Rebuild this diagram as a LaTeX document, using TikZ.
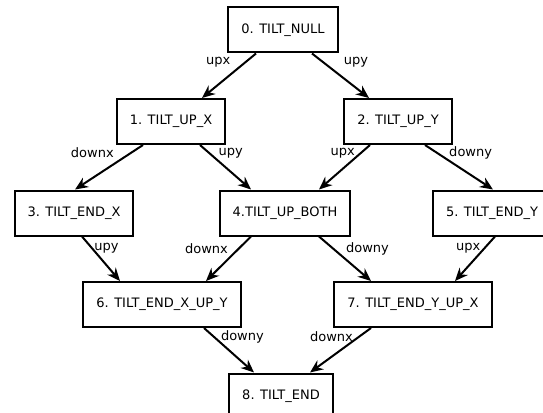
\documentclass[tikz,border=0pt]{standalone}
\usepackage{fontspec}
\setmainfont{DejaVu Sans}
\usetikzlibrary{arrows.meta, positioning}

\begin{document}
\begin{tikzpicture}[x=1pt, y=-1pt]
	\tikzset{>={Stealth[length=13pt, width=11pt]},
		every node/.style={font=\fontsize{13}{15}\selectfont},
		tilt/.style={draw, rectangle, line width=2pt, minimum height=45pt, inner xsep=13pt},
		lbl/.style={inner sep=1pt},
		every edge/.append style={line width=2pt}}
	\useasboundingbox (0,0) rectangle (543,412);

	\node[tilt] (0) at (283,30) {0. TILT\_NULL};
	\node[tilt] (1) at (171,121.5) {1. TILT\_UP\_X};
	\node[tilt] (2) at (398,121.5) {2. TILT\_UP\_Y};
	\node[tilt] (3) at (74,213) {3. TILT\_END\_X};
	\node[tilt] (4) at (285,213) {4.TILT\_UP\_BOTH};
	\node[tilt] (5) at (492,213) {5. TILT\_END\_Y};
	\node[tilt] (6) at (162,304.5) {6. TILT\_END\_X\_UP\_Y};
	\node[tilt] (7) at (413,304.5) {7. TILT\_END\_Y\_UP\_X};
	\node[tilt] (8) at (281,396) {8. TILT\_END};

	\path[->]
		([xshift=-27pt]0.south) edge node[lbl, pos=0.2, left=13pt] {upx} ([xshift=31pt]1.north)
		([xshift=29pt]0.south) edge node[lbl, pos=0.2, right=18.5pt] {upy} ([xshift=-29pt]2.north)
		([xshift=-28pt]1.south) edge node[lbl, pos=0.18, left=15pt] {downx} ([xshift=1pt]3.north)
		([xshift=29pt]1.south) edge node[lbl, pos=0.18, right=7.5pt] {upy} ([xshift=-34pt]4.north)
		([xshift=-28pt]2.south) edge node[lbl, pos=0.18, left=4pt] {upx} ([xshift=34pt]4.north)
		([xshift=27pt]2.south) edge node[lbl, pos=0.18, right=10pt] {downy} ([xshift=1pt]5.north)
		([xshift=8pt]3.south) edge node[lbl, pos=0.27, right=0pt] {upy} ([xshift=-42pt]6.north)
		([xshift=-34pt]4.south) edge node[lbl, pos=0.27, left=9pt] {downx} ([xshift=44pt]6.north)
		([xshift=34pt]4.south) edge node[lbl, pos=0.27, right=11pt] {downy} ([xshift=-42pt]7.north)
		([xshift=3pt]5.south) edge node[lbl, pos=0.27, left=2pt] {upx} ([xshift=42pt]7.north)
		([xshift=42pt]6.south) edge node[lbl, pos=0.19, right=5.5pt] {downy} ([xshift=-27pt]8.north)
		([xshift=-42pt]7.south) edge node[lbl, pos=0.19, left=4.5pt] {downx} ([xshift=29pt]8.north);
\end{tikzpicture}
\end{document}
